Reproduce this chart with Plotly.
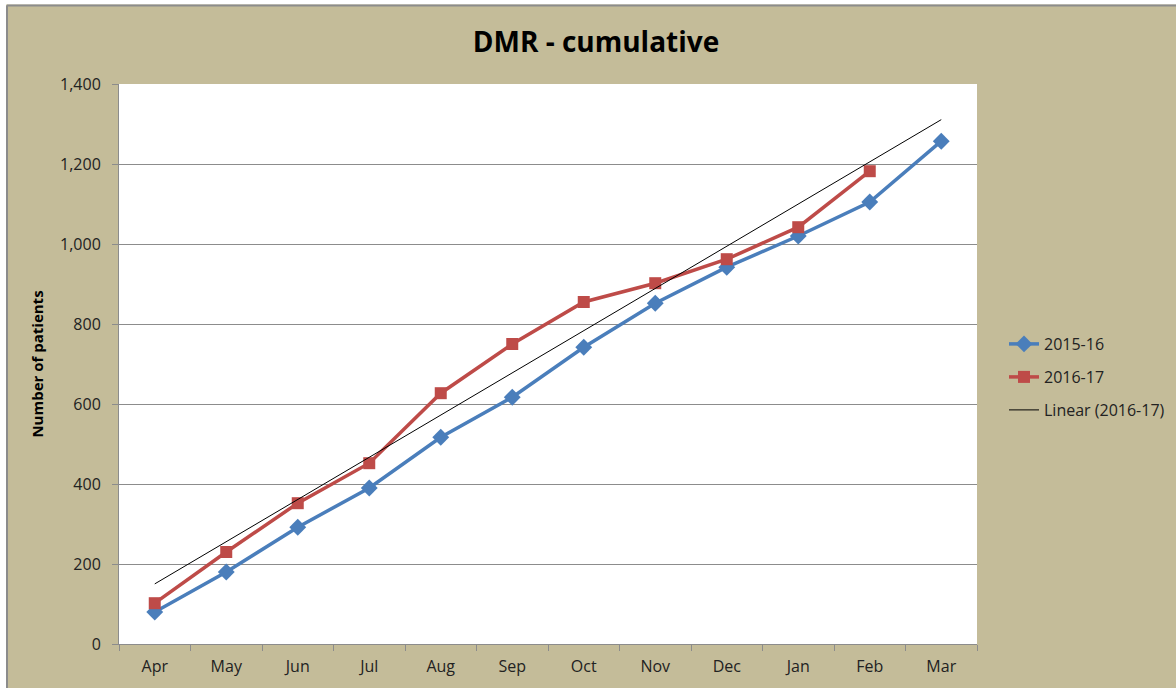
import numpy as np
import plotly.graph_objects as go

months = ["Apr", "May", "Jun", "Jul", "Aug", "Sep", "Oct", "Nov", "Dec", "Jan", "Feb", "Mar"]
s2015 = [80, 180, 292, 390, 517, 617, 742, 852, 942, 1020, 1105, 1257]
s2016 = [102, 230, 352, 452, 627, 750, 855, 902, 962, 1042, 1182]
y_ticks = [0, 200, 400, 600, 800, 1000, 1200, 1400]

# Linear trend of 2016-17 extended over all months
xi = np.arange(1, len(s2016) + 1)
slope, icpt = np.polyfit(xi, s2016, 1)
xall = np.arange(1, len(months) + 1)
trend = slope * xall + icpt

BLUE = "#4A7EBB"
RED = "#BE4B48"
TAN = "#C4BC99"

L, R, T, B = 119, 199, 84, 44
W, H = 1176, 688
pw, ph = W - L - R, H - T - B

def px(x):
    return (x - L) / pw

def py(y):
    return (H - B - y) / ph

fig = go.Figure()
fig.add_trace(go.Scatter(x=months, y=s2015, name="2015-16", mode="lines+markers",
                         line=dict(color=BLUE, width=3.5),
                         marker=dict(symbol="diamond", size=13, color=BLUE),
                         legend="legend"))
fig.add_trace(go.Scatter(x=months[:len(s2016)], y=s2016, name="2016-17", mode="lines+markers",
                         line=dict(color=RED, width=3.5),
                         marker=dict(symbol="square", size=12, color=RED),
                         legend="legend2"))
fig.add_trace(go.Scatter(x=months, y=trend, name="Linear (2016-17)", mode="lines",
                         line=dict(color="#000000", width=1),
                         legend="legend3"))

shapes = [
    dict(type="rect", xref="paper", yref="paper", x0=px(-5), x1=px(W + 5), y0=py(4.5), y1=py(-5),
         fillcolor="white", line=dict(width=0), layer="above"),
    dict(type="rect", xref="paper", yref="paper", x0=px(-5), x1=px(6), y0=py(H + 5), y1=py(-5),
         fillcolor="white", line=dict(width=0), layer="above"),
    dict(type="line", xref="paper", yref="paper", x0=px(7), x1=px(W + 5), y0=py(5.5), y1=py(5.5),
         line=dict(color="#8C8C8C", width=2), layer="above"),
    dict(type="line", xref="paper", yref="paper", x0=px(7), x1=px(7), y0=py(H + 5), y1=py(5.5),
         line=dict(color="#8C8C8C", width=2), layer="above"),
]

def leg(ycenter):
    return dict(x=px(1004), y=py(ycenter), xanchor="left", yanchor="middle",
                bgcolor="rgba(0,0,0,0)", font=dict(size=16, color="#222222"),
                itemwidth=30)

fig.update_layout(
    width=W, height=H,
    margin=dict(l=L, r=R, t=T, b=B, autoexpand=False),
    paper_bgcolor=TAN, plot_bgcolor="white",
    font=dict(family="Open Sans, sans-serif", color="#222222", size=16),
    title=dict(text="<b>DMR - cumulative</b>", x=596 / W, xanchor="center",
               y=1 - 42 / H, yanchor="middle",
               font=dict(family="Open Sans, sans-serif", size=28, color="#000000")),
    showlegend=True,
    legend=leg(344), legend2=leg(377), legend3=leg(410),
    shapes=shapes,
    annotations=[dict(text="g", xref="paper", yref="paper", x=px(440), y=py(-1),
                      xanchor="center", yanchor="bottom", showarrow=False,
                      font=dict(size=22, color="#000000", family="Open Sans, sans-serif"))],
)
fig.update_xaxes(type="category", categoryorder="array", categoryarray=months,
                 range=[-0.5, len(months) - 0.5],
                 showline=True, linecolor="#8C8C8C", linewidth=1,
                 ticks="outside", tickson="boundaries", ticklen=6, tickcolor="#8C8C8C",
                 ticklabelstandoff=8,
                 showgrid=False, tickfont=dict(size=16, color="#222222"))
fig.update_yaxes(range=[0, 1400], tickvals=y_ticks, tickformat=",",
                 showline=True, linecolor="#8C8C8C", linewidth=1,
                 ticks="outside", ticklen=6, tickcolor="#8C8C8C",
                 ticklabelstandoff=8,
                 showgrid=True, gridcolor="#8C8C8C", gridwidth=1, zeroline=False,
                 title=dict(text="<b>Number of patients</b>", standoff=12,
                            font=dict(size=15, color="#000000")),
                 tickfont=dict(size=16, color="#222222"))

fig.write_html("out.html", config={"displayModeBar": False},
               post_script="document.body.style.margin='0';document.body.style.overflow='hidden';")
